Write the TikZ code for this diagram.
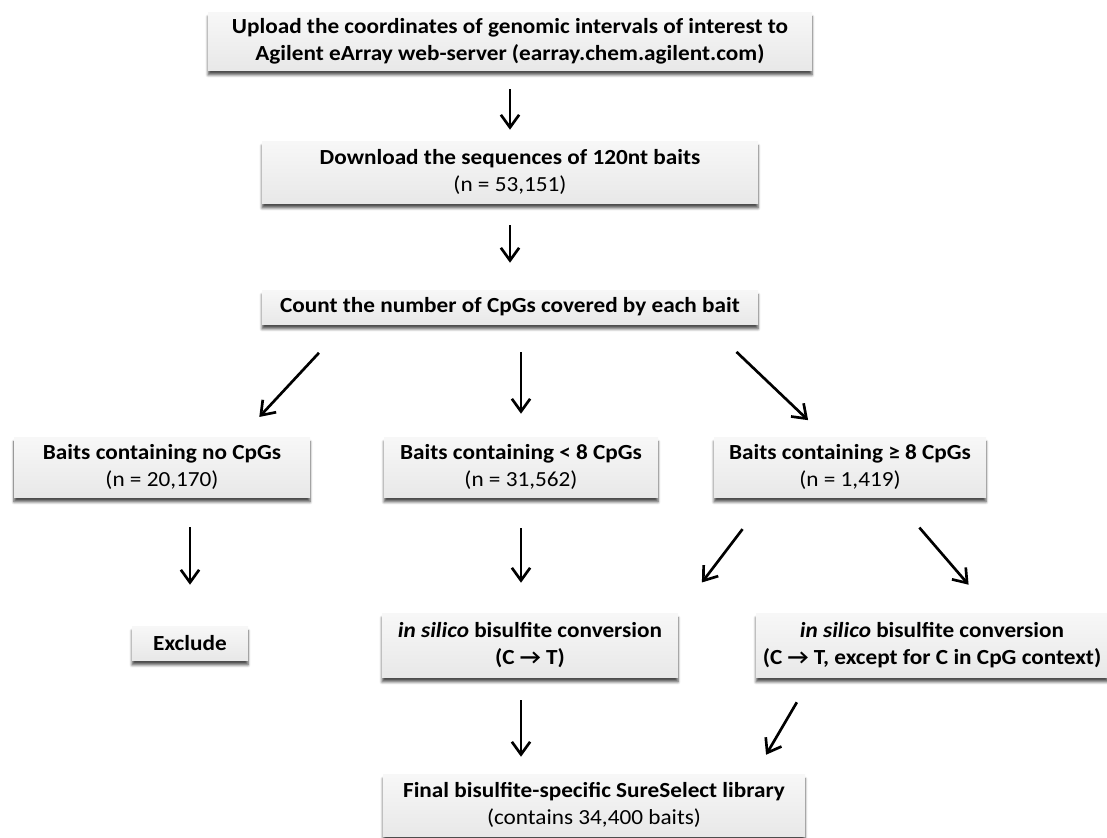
\documentclass[tikz,border=0pt]{standalone}
\usepackage{fontspec}
\setmainfont{Carlito}[FakeStretch=1.08]
\usepackage{tikz}
\usetikzlibrary{arrows.meta,shadows.blur,calc}
\newcommand{\px}{0.025cm}
\newcommand{\boxfont}{\fontsize{15.3}{19}\selectfont\bfseries}

\tikzset{
greybox/.style={rectangle, inner sep=0pt, align=center, top color=black!3, bottom color=black!9, blur shadow={shadow xshift=0pt, shadow yshift=-3.5pt, shadow blur steps=6, shadow opacity=70}, font=\boxfont},
flowarrow/.style={-{Straight Barb[length=9pt,width=13pt]}, line width=1.9pt}
}

\begin{document}
\begin{tikzpicture}[x=\px, y=-\px]
\useasboundingbox (0,0) rectangle (1107,837);
\node[greybox, minimum width=604*\px, minimum height=58*\px] (upload) at (510,41) {Upload the coordinates of genomic intervals of interest to\\Agilent eArray web-server (earray.chem.agilent.com)};
\node[greybox, minimum width=496*\px, minimum height=62*\px] (download) at (510,172) {Download the sequences of 120nt baits\\\mdseries(n = 53,151)};
\node[greybox, minimum width=496*\px, minimum height=34*\px] (count) at (510,307) {Count the number of CpGs covered by each bait};
\node[greybox, minimum width=296*\px, minimum height=60*\px] (nocpg) at (162,467) {Baits containing no CpGs\\\mdseries(n = 20,170)};
\node[greybox, minimum width=274*\px, minimum height=60*\px] (lowcpg) at (521,467) {Baits containing < 8 CpGs\\\mdseries(n = 31,562)};
\node[greybox, minimum width=272*\px, minimum height=60*\px] (highcpg) at (850,467) {Baits containing ≥ 8 CpGs\\\mdseries(n = 1,419)};
\node[greybox, minimum width=116*\px, minimum height=34*\px] (exclude) at (190,643) {Exclude};
\node[greybox, minimum width=296*\px, minimum height=64*\px] (convall) at (530,645) {\textit{in silico} bisulfite conversion\\(C → T)};
\node[greybox, minimum width=352*\px, minimum height=64*\px] (convcpg) at (932,645) {\textit{in silico} bisulfite conversion\\(C → T, except for C in CpG context)};
\node[greybox, minimum width=422*\px, minimum height=62*\px] (final) at (594,805) {Final bisulfite-specific SureSelect library\\\mdseries(contains 34,400 baits)};
%down the middle
\draw[flowarrow, shorten <=19*\px, shorten >=11*\px] (upload.south) -- (download.north);
\draw[flowarrow, shorten <=22*\px, shorten >=27*\px] (download.south) -- (count.north);
%split by CpG count
\draw[flowarrow, shorten <=39*\px, shorten >=27*\px] (count.186) -- (nocpg.21.5);
\draw[flowarrow, shorten <=28*\px, shorten >=23*\px] (count.south -| lowcpg.north) -- (lowcpg.north);
\draw[flowarrow, shorten <=40*\px, shorten >=24*\px] (count.355.2) -- (highcpg.129.8);
%conversion
\draw[flowarrow, shorten <=30*\px, shorten >=41*\px] (nocpg.south -| exclude.north) -- (exclude.north);
\draw[flowarrow, shorten <=31*\px, shorten >=30*\px] (lowcpg.south) -- (lowcpg.south |- convall.north);
\draw[flowarrow, shorten <=40*\px, shorten >=39*\px] (highcpg.200.3) -- (convall.12.7);
\draw[flowarrow, shorten <=40*\px, shorten >=37*\px] (highcpg.325.7) -- (convcpg.28.2);
%library
\draw[flowarrow, shorten <=23*\px, shorten >=17*\px] (lowcpg.south |- convall.south) -- (lowcpg.south |- final.north);
\draw[flowarrow, shorten <=29*\px, shorten >=22*\px] (convcpg.195.7) -- (final.11.86);
\end{tikzpicture}
\end{document}
